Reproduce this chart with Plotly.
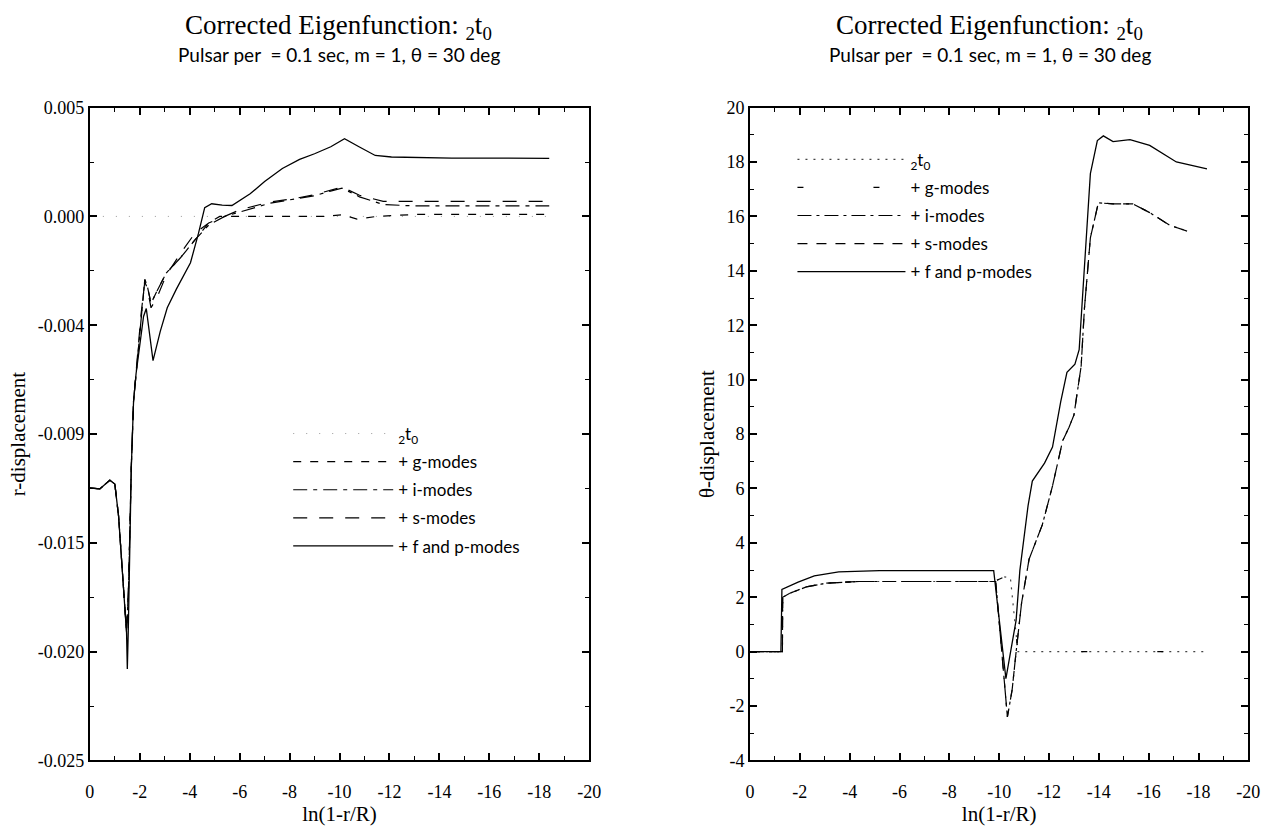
import plotly.graph_objects as go

# ---------------- data ----------------
# Left panel: r-displacement vs ln(1-r/R)
xL_t0 = [0, -18.4]
yL_t0 = [0.0, 0.0]

xL_g = [0, -0.4, -0.8, -1.0, -1.15, -1.3, -1.47, -1.55, -1.66, -1.75, -1.85, -2.05, -2.2, -2.3,
        -2.45, -2.7, -3.06, -3.63, -4.19, -4.76, -5.2, -6.0, -9.5, -10.1, -10.7, -11.5, -13.0, -18.4]
yL_g = [-0.01248, -0.01252, -0.01212, -0.0123, -0.01377, -0.0165, -0.0191, -0.017, -0.0115, -0.0085,
        -0.0072, -0.0045, -0.0029, -0.0032, -0.0040, -0.0034, -0.0026, -0.0019, -0.0011, -0.0003,
        0.0, 0.0, 0.0, 0.00008, -0.00012, 0.0, 0.00009, 0.00009]

xL_i = [0, -0.4, -0.8, -1.0, -1.15, -1.3, -1.47, -1.55, -1.66, -1.75, -1.85, -2.05, -2.2, -2.3,
        -2.45, -2.7, -3.06, -3.63, -4.19, -4.76, -5.4, -6.0, -7.2, -8.2, -9.0, -9.6, -10.1, -10.8,
        -11.75, -13.0, -18.4]
yL_i = [-0.01248, -0.01252, -0.01212, -0.0123, -0.01377, -0.0165, -0.0191, -0.017, -0.0115, -0.0085,
        -0.0072, -0.0045, -0.0029, -0.0032, -0.0040, -0.0034, -0.0026, -0.0019, -0.0011, -0.0004,
        0.0, 0.0002, 0.0006, 0.0008, 0.00095, 0.00115, 0.0013, 0.0009, 0.00055, 0.00048, 0.00048]

xL_s = [0, -0.4, -0.8, -1.0, -1.15, -1.3, -1.47, -1.55, -1.66, -1.75, -1.85, -2.05, -2.2, -2.3,
        -2.45, -2.7, -3.06, -3.63, -4.19, -4.76, -5.4, -6.0, -7.2, -8.2, -9.0, -9.6, -10.1, -10.8,
        -11.75, -13.0, -18.4]
yL_s = [-0.01248, -0.01252, -0.01212, -0.0123, -0.01377, -0.0165, -0.0191, -0.017, -0.0115, -0.0085,
        -0.0072, -0.0045, -0.0030, -0.0033, -0.0042, -0.0037, -0.0027, -0.0017, -0.0008, -0.0003,
        0.0, 0.0003, 0.00066, 0.00082, 0.001, 0.0012, 0.00135, 0.00097, 0.00069, 0.00069, 0.00069]

xL_fp = [0, -0.4, -0.8, -1.0, -1.15, -1.3, -1.47, -1.5, -1.54, -1.66, -1.75, -1.85, -2.0, -2.15,
         -2.26, -2.4, -2.53, -2.82, -3.1, -3.47, -4.03, -4.35, -4.6, -4.88, -5.3, -5.69, -6.42,
         -7.0, -7.71, -8.4, -9.0, -9.65, -10.2, -10.78, -11.43, -12.08, -14.5, -18.4]
yL_fp = [-0.01248, -0.01252, -0.01212, -0.0123, -0.01377, -0.0165, -0.01914, -0.0208, -0.01896,
         -0.01154, -0.0085, -0.00723, -0.0058, -0.0046, -0.00423, -0.0055, -0.00663, -0.00528,
         -0.0042, -0.00333, -0.00213, -0.00078, 0.0004, 0.00058, 0.00052, 0.0005, 0.00104, 0.0016,
         0.0022, 0.00262, 0.00288, 0.0032, 0.00357, 0.0032, 0.0028, 0.00273, 0.00268, 0.00267]

# Right panel: theta-displacement vs ln(1-r/R)
xR_t0 = [0, -1.3, -1.31, -1.6, -2.26, -3.07, -4.38, -9.8, -10.2, -10.45, -10.75, -18.2]
yR_t0 = [0, 0, 2.0, 2.15, 2.38, 2.52, 2.58, 2.58, 2.75, 2.72, 0, 0]

xR_g = [0, -1.3, -1.31, -1.6, -2.26, -3.07, -4.38, -9.8, -10.2, -10.45, -10.75, -18.2]
yR_g = [0, 0, 2.0, 2.15, 2.38, 2.52, 2.58, 2.58, 2.75, 2.72, 0, 0]

xR_i = [0, -1.3, -1.31, -1.6, -2.26, -3.07, -4.38, -9.86, -10.33, -10.52, -10.68, -10.9, -11.2,
        -11.73, -12.14, -12.55, -12.8, -13.0, -13.29, -13.42, -13.66, -13.98, -14.57, -15.37,
        -16.04, -16.83, -17.54]
yR_i = [0, 0, 2.0, 2.15, 2.38, 2.52, 2.58, 2.58, -2.4, -1.4, 0, 1.8, 3.4, 4.66, 6.09, 7.76, 8.24,
        8.7, 10.5, 12.6, 15.21, 16.5, 16.46, 16.46, 16.14, 15.68, 15.46]

xR_s = [0, -1.3, -1.31, -1.6, -2.26, -3.07, -4.38, -9.86, -10.33, -10.52, -10.68, -10.9, -11.2,
        -11.73, -12.14, -12.55, -12.8, -13.0, -13.29, -13.42, -13.66, -13.98, -14.57, -15.37,
        -16.04, -16.83, -17.54]
yR_s = [0, 0, 2.0, 2.15, 2.38, 2.52, 2.58, 2.58, -2.4, -1.4, 0, 1.8, 3.4, 4.66, 6.09, 7.76, 8.24,
        8.7, 10.5, 12.6, 15.21, 16.5, 16.46, 16.46, 16.14, 15.68, 15.46]

xR_fp = [0, -1.24, -1.28, -1.93, -2.58, -3.56, -5.2, -9.78, -10.27, -10.68, -10.83, -11.16, -11.33,
         -11.82, -12.14, -12.47, -12.72, -13.04, -13.21, -13.35, -13.66, -13.94, -14.18, -14.57,
         -15.25, -16.04, -17.11, -18.34]
yR_fp = [0, 0, 2.29, 2.56, 2.79, 2.93, 2.98, 2.98, -0.99, 1.16, 2.99, 5.37, 6.27, 6.93, 7.52, 9.19,
         10.27, 10.57, 11.1, 13.0, 17.57, 18.79, 18.96, 18.75, 18.82, 18.61, 18.0, 17.75]

names = ["<sub>2</sub>t<sub>0</sub>", "+ g-modes", "+ i-modes", "+ s-modes", "+ f and p-modes"]

x_ticks = [0, -2, -4, -6, -8, -10, -12, -14, -16, -18, -20]
x_ticktext = ["0", "-2", "-4", "-6", "-8", "-10", "-12", "-14", "-16", "-18", "-20"]
x_minor = [-1, -3, -5, -7, -9, -11, -13, -15, -17, -19]

yL_ticks = [0.005, 0.0, -0.005, -0.010, -0.015, -0.020, -0.025]
yL_ticktext = ["0.005", "0.000", "-0.004", "-0.009", "-0.015", "-0.020", "-0.025"]
yL_minor = [0.0025, -0.0025, -0.0075, -0.0125, -0.0175, -0.0225]

yR_ticks = [-4, -2, 0, 2, 4, 6, 8, 10, 12, 14, 16, 18, 20]
yR_ticktext = ["-4", "-2", "0", "2", "4", "6", "8", "10", "12", "14", "16", "18", "20"]
yR_minor = [-3, -1, 1, 3, 5, 7, 9, 11, 13, 15, 17, 19]

# ---------------- styles ----------------
W, H = 1286, 831
SERIF = "Liberation Serif"
SANS = "Lato"

left_styles = [
    dict(color="#999999", width=1, dash="1px,12px"),
    dict(color="black", width=1.2, dash="8px,9px"),
    dict(color="black", width=1.2, dash="14px,6px,4px,6px"),
    dict(color="black", width=1.2, dash="14px,12px"),
    dict(color="black", width=1.3, dash="solid"),
]
right_styles = [
    dict(color="#444444", width=1.2, dash="2px,6px"),
    dict(color="black", width=1.2, dash="6px,70px"),
    dict(color="black", width=1.2, dash="14px,5px,3px,5px"),
    dict(color="black", width=1.2, dash="10px,9px"),
    dict(color="black", width=1.3, dash="solid"),
]

fig = go.Figure()

left_data = [(xL_t0, yL_t0), (xL_g, yL_g), (xL_i, yL_i), (xL_s, yL_s), (xL_fp, yL_fp)]
right_data = [(xR_t0, yR_t0), (xR_g, yR_g), (xR_i, yR_i), (xR_s, yR_s), (xR_fp, yR_fp)]

for k, ((xs, ys), st) in enumerate(zip(left_data, left_styles)):
    fig.add_trace(go.Scatter(x=xs, y=ys, mode="lines", name=names[k], line=st,
                             xaxis="x", yaxis="y", legend="legend", legendgroup="L%d" % k))
for k, ((xs, ys), st) in enumerate(zip(right_data, right_styles)):
    fig.add_trace(go.Scatter(x=xs, y=ys, mode="lines", name=names[k], line=st,
                             xaxis="x2", yaxis="y2", legend="legend2", legendgroup="R%d" % k))

axis_common = dict(showline=True, linewidth=2, linecolor="black", mirror="ticks",
                   ticks="inside", ticklen=7, tickwidth=1.5, tickcolor="black",
                   showgrid=False, zeroline=False,
                   tickfont=dict(family=SERIF, size=18, color="black"))


def minor(vals):
    return dict(tickmode="array", tickvals=vals, ticks="inside", ticklen=4,
                tickwidth=1, tickcolor="black", showgrid=False)


yd = [(H - 769) / H, (H - 100) / H]
title_font = dict(family=SERIF, size=21, color="black")

fig.update_layout(
    width=W, height=H, margin=dict(l=0, r=0, t=0, b=0),
    paper_bgcolor="white", plot_bgcolor="white",
    xaxis=dict(domain=[86 / W, 592 / W], range=[0, -20], anchor="y",
               tickmode="array", tickvals=x_ticks, ticktext=x_ticktext, minor=minor(x_minor),
               ticklabelstandoff=14,
               title=dict(text="ln(1-r/R)", font=title_font, standoff=2),
               **axis_common),
    yaxis=dict(domain=yd, range=[-0.025, 0.005], anchor="x",
               tickmode="array", tickvals=yL_ticks, ticktext=yL_ticktext, minor=minor(yL_minor),
               title=dict(text="r-displacement", font=title_font, standoff=6),
               **axis_common),
    xaxis2=dict(domain=[755 / W, 1260 / W], range=[0, -20], anchor="y2",
                tickmode="array", tickvals=x_ticks, ticktext=x_ticktext, minor=minor(x_minor),
                ticklabelstandoff=14,
                title=dict(text="ln(1-r/R)", font=title_font, standoff=2),
                **axis_common),
    yaxis2=dict(domain=yd, range=[-4, 20], anchor="x2",
                tickmode="array", tickvals=yR_ticks, ticktext=yR_ticktext, minor=minor(yR_minor),
                title=dict(text="θ-displacement", font=title_font, standoff=6),
                **axis_common),
    legend=dict(x=287 / W, y=(H - 416) / H, xanchor="left", yanchor="top",
                bgcolor="rgba(0,0,0,0)", borderwidth=0, traceorder="grouped",
                tracegroupgap=3, itemwidth=100,
                font=dict(family=SANS, size=17, color="black")),
    legend2=dict(x=798 / W, y=(H - 135) / H, xanchor="left", yanchor="top",
                 bgcolor="rgba(0,0,0,0)", borderwidth=0, traceorder="grouped",
                 tracegroupgap=3, itemwidth=108,
                 font=dict(family=SANS, size=17, color="black")),
    showlegend=True,
)

title_txt = "Corrected Eigenfunction: <sub>2</sub>t<sub>0</sub>"
sub_txt = "Pulsar per  = 0.1 sec, m = 1, θ = 30 deg"
for cx in (338 / W, 998 / W):
    fig.add_annotation(x=cx, y=1 - 17 / H, xref="paper", yref="paper", text=title_txt,
                       showarrow=False, xanchor="center", yanchor="middle",
                       font=dict(family=SERIF, size=27, color="black"))
    fig.add_annotation(x=cx, y=1 - 46 / H, xref="paper", yref="paper", text=sub_txt,
                       showarrow=False, xanchor="center", yanchor="middle",
                       font=dict(family=SANS, size=19, color="black"))

fig.write_html("out.html")
